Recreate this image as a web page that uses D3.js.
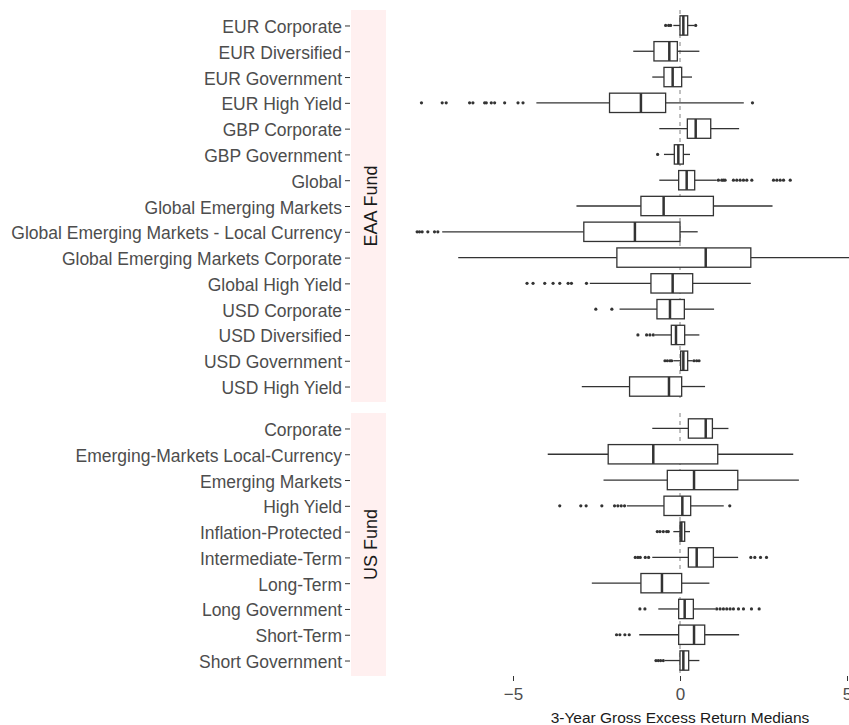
<!DOCTYPE html>
<html>
<head>
<meta charset="utf-8">
<script src="https://cdn.jsdelivr.net/npm/d3@7"></script>
<style>
  body { margin: 0; background: #fff; overflow: hidden; }
  svg { display: block; }
</style>
</head>
<body>
<svg id="chart"></svg>
<script>
// EAA Fund categories and box stats
const eaaCategories = ["EUR Corporate", "EUR Diversified", "EUR Government", "EUR High Yield",
  "GBP Corporate", "GBP Government", "Global", "Global Emerging Markets",
  "Global Emerging Markets - Local Currency", "Global Emerging Markets Corporate",
  "Global High Yield", "USD Corporate", "USD Diversified", "USD Government", "USD High Yield"]
const eaaLower  = [-0.2, -1.4, -0.83, -4.3, -0.62, -0.48, -0.62, -3.1, -7.12, -6.64, -2.7, -1.81, -0.75, -0.2, -2.94]
const eaaQ1     = [0.0, -0.78, -0.48, -2.11, 0.22, -0.17, -0.04, -1.17, -2.88, -1.89, -0.87, -0.69, -0.26, 0.02, -1.51]
const eaaMedian = [0.1, -0.32, -0.22, -1.17, 0.47, -0.05, 0.2, -0.49, -1.35, 0.77, -0.22, -0.3, -0.12, 0.1, -0.33]
const eaaQ3     = [0.23, -0.08, 0.05, -0.43, 0.92, 0.1, 0.44, 1.0, 0.0, 2.12, 0.38, 0.13, 0.14, 0.23, 0.05]
const eaaUpper  = [0.43, 0.58, 0.36, 1.91, 1.77, 0.3, 1.1, 2.77, 0.53, 5.6, 2.12, 1.02, 0.58, 0.38, 0.75]
const eaaOutliers = [
  [-0.43, -0.34, -0.28, 0.47],
  [],
  [],
  [-7.74, -7.12, -7.0, -6.3, -6.2, -5.85, -5.8, -5.65, -5.55, -5.25, -4.85, -4.7, 2.17],
  [],
  [-0.67],
  [1.15, 1.25, 1.3, 1.35, 1.6, 1.7, 1.8, 1.9, 2.0, 2.15, 2.8, 2.9, 3.0, 3.1, 3.3],
  [],
  [-7.87, -7.8, -7.72, -7.55, -7.35, -7.25],
  [],
  [-4.58, -4.4, -4.05, -3.8, -3.6, -3.35, -3.25, -2.8],
  [-2.52, -2.04],
  [-1.26, -1.0, -0.9, -0.8],
  [-0.45, -0.38, -0.3, -0.25, 0.42, 0.5, 0.57],
  []
]

// US Fund categories and box stats
const usCategories = ["Corporate", "Emerging-Markets Local-Currency", "Emerging Markets", "High Yield",
  "Inflation-Protected", "Intermediate-Term", "Long-Term", "Long Government", "Short-Term", "Short Government"]
const usLower  = [-0.83, -3.96, -2.29, -1.59, -0.2, -0.83, -2.64, -0.65, -1.22, -0.45]
const usQ1     = [0.25, -2.15, -0.38, -0.48, 0.0, 0.25, -1.17, -0.04, -0.04, 0.0]
const usMedian = [0.77, -0.8, 0.42, 0.07, 0.04, 0.5, -0.54, 0.14, 0.42, 0.1]
const usQ3     = [0.97, 1.13, 1.73, 0.32, 0.14, 1.0, 0.05, 0.4, 0.74, 0.26]
const usUpper  = [1.45, 3.39, 3.56, 1.31, 0.3, 1.74, 0.88, 1.05, 1.77, 0.58]
const usOutliers = [
  [],
  [],
  [],
  [-3.6, -2.97, -2.81, -2.34, -1.96, -1.86, -1.76, -1.66, 1.49],
  [-0.68, -0.6, -0.5, -0.4, -0.35],
  [-1.34, -1.26, -1.19, -1.04, -0.94, 2.12, 2.24, 2.41, 2.59],
  [],
  [-1.2, -1.05, 1.1, 1.2, 1.3, 1.4, 1.5, 1.6, 1.75, 1.9, 2.14, 2.37],
  [-1.9, -1.8, -1.65, -1.52],
  [-0.72, -0.65, -0.58, -0.5]
]

const xTicks = [-5, 0, 5]

const width = 849, height = 725
const svg = d3.select("#chart").attr("width", width).attr("height", height)

const panelLeft = 386
const x = d3.scaleLinear().domain([-5, 5]).range([513, 847])

const panels = [
  {name: "EAA Fund", cats: eaaCategories, lo: eaaLower, q1: eaaQ1, med: eaaMedian, q3: eaaQ3, hi: eaaUpper, out: eaaOutliers, top: 10, bottom: 402},
  {name: "US Fund", cats: usCategories, lo: usLower, q1: usQ1, med: usMedian, q3: usQ3, hi: usUpper, out: usOutliers, top: 413, bottom: 676}
]

const ink = "#333333"
const font = "'Liberation Sans', Arial, sans-serif"

svg.append("defs").append("clipPath").attr("id", "clip")
  .append("rect").attr("x", panelLeft).attr("y", 0).attr("width", width - panelLeft).attr("height", height)

panels.forEach(p => {
  const y = d3.scalePoint().domain(p.cats).range([p.top, p.bottom]).padding(0.6)
  const bw = y.step() * 0.75

  // strip on the left
  svg.append("rect")
    .attr("x", 351).attr("y", p.top)
    .attr("width", panelLeft - 351).attr("height", p.bottom - p.top)
    .attr("fill", "#fff0f0")
  svg.append("text")
    .attr("transform", "translate(" + 377 + "," + (p.top + p.bottom) / 2 + ") rotate(-90)")
    .attr("text-anchor", "middle")
    .style("font", "18px " + font)
    .attr("fill", "#1a1a1a")
    .text(p.name)

  // y axis
  const yAxis = svg.append("g")
    .attr("transform", "translate(350,0)")
    .call(d3.axisLeft(y).tickSize(5).tickPadding(3))
  yAxis.select(".domain").remove()
  yAxis.selectAll("line").attr("stroke", ink)
  yAxis.selectAll("text")
    .attr("fill", "#4d4d4d")
    .attr("dy", "0.4em")
    .style("font", "17.5px " + font)

  const g = svg.append("g").attr("clip-path", "url(#clip)")

  // zero reference line
  g.append("line")
    .attr("x1", x(0)).attr("x2", x(0))
    .attr("y1", p.top).attr("y2", p.bottom)
    .attr("stroke", "#808080").attr("stroke-dasharray", "4,4")

  const boxes = g.selectAll("g.box")
    .data(p.cats.map((c, i) => ({c, i})))
    .join("g").attr("class", "box")

  boxes.append("line")
    .attr("x1", d => x(p.lo[d.i])).attr("x2", d => x(p.q1[d.i]))
    .attr("y1", d => y(d.c)).attr("y2", d => y(d.c))
    .attr("stroke", ink).attr("stroke-width", 1.3)
  boxes.append("line")
    .attr("x1", d => x(p.q3[d.i])).attr("x2", d => x(p.hi[d.i]))
    .attr("y1", d => y(d.c)).attr("y2", d => y(d.c))
    .attr("stroke", ink).attr("stroke-width", 1.3)
  boxes.append("rect")
    .attr("x", d => x(p.q1[d.i])).attr("width", d => x(p.q3[d.i]) - x(p.q1[d.i]))
    .attr("y", d => y(d.c) - bw / 2).attr("height", bw)
    .attr("fill", "white").attr("stroke", ink).attr("stroke-width", 1.3)
  boxes.append("line")
    .attr("x1", d => x(p.med[d.i])).attr("x2", d => x(p.med[d.i]))
    .attr("y1", d => y(d.c) - bw / 2).attr("y2", d => y(d.c) + bw / 2)
    .attr("stroke", ink).attr("stroke-width", 2.5)

  boxes.selectAll("circle")
    .data(d => p.out[d.i].map(v => ({v, c: d.c})))
    .join("circle")
    .attr("cx", d => x(d.v)).attr("cy", d => y(d.c))
    .attr("r", 1.6).attr("fill", ink)
})

// x axis
const xAxis = svg.append("g")
  .attr("transform", "translate(0,676)")
  .call(d3.axisBottom(x).tickValues(xTicks).tickSize(5).tickPadding(7))
xAxis.select(".domain").remove()
xAxis.selectAll("line").attr("stroke", ink)
xAxis.selectAll("text")
  .attr("fill", "#4d4d4d")
  .style("font", "17px " + font)

svg.append("text")
  .attr("x", 680).attr("y", 723)
  .attr("text-anchor", "middle")
  .attr("fill", "#1a1a1a")
  .style("font", "15.5px " + font)
  .text("3-Year Gross Excess Return Medians")
</script>
</body>
</html>
